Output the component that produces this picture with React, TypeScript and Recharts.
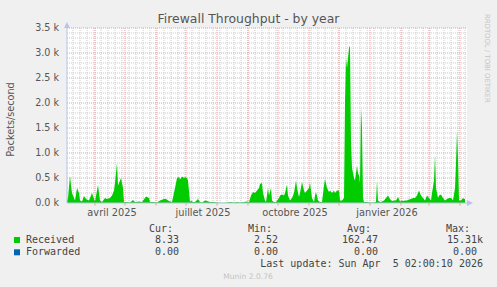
import React from 'react';
import { AreaChart, Area, XAxis, YAxis, CartesianGrid, ReferenceDot, ReferenceLine } from 'recharts';

// Days since 2025-03-01 (one sample per reading)
const days = [
  3, 4, 6, 7, 8, 10, 11, 13, 15, 16, 18, 20, 22, 25, 28, 30, 31, 34, 36, 38,
  41, 43, 46, 48, 50, 51, 53, 54, 56, 57, 59, 60, 63, 66, 69, 71, 75, 78, 82, 85,
  86, 90, 93, 96, 100, 102, 105, 108, 111, 113, 115, 116, 118, 120, 121, 123, 124, 126, 127, 129,
  131, 134, 136, 138, 141, 143, 146, 150, 153, 156, 160, 163, 166, 170, 173, 176, 180, 183, 185, 187,
  189, 191, 193, 195, 196, 198, 199, 201, 202, 204, 205, 207, 208, 210, 212, 215, 216, 218, 220, 221,
  223, 224, 226, 228, 230, 232, 233, 235, 236, 238, 240, 241, 243, 245, 246, 248, 250, 251, 252, 254,
  256, 258, 260, 261, 263, 265, 266, 268, 270, 271, 273, 275, 276, 278, 280, 281, 282, 283, 284, 285,
  286, 287, 288, 289, 290, 291, 292, 293, 294, 295, 296, 297, 298, 299, 300, 303, 306, 309, 312, 313,
  314, 316, 318, 320, 322, 324, 326, 328, 330, 332, 334, 336, 338, 339, 341, 343, 345, 347, 349, 351,
  353, 355, 357, 359, 361, 363, 365, 367, 368, 370, 371, 372, 374, 375, 377, 379, 381, 383, 385, 387,
  389, 391, 392, 393, 394, 395, 397, 399, 400, 401,
];

// Received packets/second
const received = [
  50, 100, 550, 350, 200, 100, 50, 300, 200, 50, 30, 140, 80, 50, 200, 80, 30, 360, 50, 20,
  100, 80, 100, 150, 250, 400, 800, 350, 450, 500, 300, 20, 20, 10, 60, 20, 30, 20, 130, 100,
  20, 20, 10, 50, 80, 80, 40, 20, 300, 500, 520, 470, 530, 500, 520, 500, 450, 20, 50, 20,
  20, 80, 20, 10, 50, 40, 20, 20, 10, 5, 5, 10, 20, 10, 20, 10, 20, 30, 20, 150,
  220, 200, 250, 300, 380, 400, 200, 50, 20, 300, 150, 300, 50, 20, 20, 100, 150, 170, 150, 200,
  370, 150, 50, 100, 200, 450, 300, 120, 200, 420, 250, 200, 250, 300, 400, 100, 20, 150, 220, 50,
  20, 20, 350, 480, 300, 220, 250, 200, 250, 200, 250, 250, 50, 50, 100, 2000, 2900, 2700, 2900, 3100,
  3150, 1200, 700, 600, 500, 450, 600, 750, 600, 550, 400, 1900, 1500, 100, 20, 20, 10, 10, 20, 450,
  50, 20, 30, 50, 100, 150, 80, 40, 50, 50, 120, 30, 50, 40, 50, 50, 70, 80, 100, 100,
  150, 250, 150, 100, 50, 150, 100, 50, 200, 450, 970, 300, 100, 150, 170, 100, 50, 80, 100, 100,
  50, 300, 800, 1450, 900, 50, 50, 100, 80, 80,
];

// Forwarded packets/second
const forwarded = [
  0, 0, 0, 0, 0, 0, 0, 0, 0, 0, 0, 0, 0, 0, 0, 0, 0, 0, 0, 0,
  0, 0, 0, 0, 0, 0, 0, 0, 0, 0, 0, 0, 0, 0, 0, 0, 0, 0, 0, 0,
  0, 0, 0, 0, 0, 0, 0, 0, 0, 0, 0, 0, 0, 0, 0, 0, 0, 0, 0, 0,
  0, 0, 0, 0, 0, 0, 0, 0, 0, 0, 0, 0, 0, 0, 0, 0, 0, 0, 0, 0,
  0, 0, 0, 0, 0, 0, 0, 0, 0, 0, 0, 0, 0, 0, 0, 0, 0, 0, 0, 0,
  0, 0, 0, 0, 0, 0, 0, 0, 0, 0, 0, 0, 0, 0, 0, 0, 0, 0, 0, 0,
  0, 0, 0, 0, 0, 0, 0, 0, 0, 0, 0, 0, 0, 0, 0, 0, 0, 0, 0, 0,
  0, 0, 0, 0, 0, 0, 0, 0, 0, 0, 0, 0, 0, 0, 0, 0, 0, 0, 0, 0,
  0, 0, 0, 0, 0, 0, 0, 0, 0, 0, 0, 0, 0, 0, 0, 0, 0, 0, 0, 0,
  0, 0, 0, 0, 0, 0, 0, 0, 0, 0, 0, 0, 0, 0, 0, 0, 0, 0, 0, 0,
  0, 0, 0, 0, 0, 0, 0, 0, 0, 0,
];

const xDomain = [3, 403];
const monthStartDays = [31, 61, 92, 122, 153, 184, 214, 245, 275, 306, 337, 365, 396];
const weekDays = [
  9, 16, 23, 30, 37, 44, 51, 58, 65, 72, 79, 86, 93, 100, 107, 114, 121, 128, 135, 142,
  149, 156, 163, 170, 177, 184, 191, 198, 205, 212, 219, 226, 233, 240, 247, 254, 261, 268, 275, 282,
  289, 296, 303, 310, 317, 324, 331, 338, 345, 352, 359, 366, 373, 380, 387, 394, 401,
];
const labelDays = [48, 139, 231, 323];
const labelTexts = ['avril 2025', 'juillet 2025', 'octobre 2025', 'janvier 2026'];

const yMajor = [0, 500, 1000, 1500, 2000, 2500, 3000, 3500];
const yMinor = [
  100, 200, 300, 400, 600, 700, 800, 900, 1100, 1200, 1300, 1400, 1600, 1700, 1800, 1900,
  2100, 2200, 2300, 2400, 2600, 2700, 2800, 2900, 3100, 3200, 3300, 3400,
];

const title = 'Firewall Throughput - by year';
const yTitle = 'Packets/second';
const watermark = 'RRDTOOL / TOBI OETIKER';
const seriesNames = ['Received', 'Forwarded'];
const seriesColors = ['#00CC00', '#0066B3'];
const statHeaders = ['Cur:', 'Min:', 'Avg:', 'Max:'];
const curValues = ['8.33', '0.00'];
const minValues = ['2.52', '0.00'];
const avgValues = ['162.47', '0.00'];
const maxValues = ['15.31', '0.00'];
const maxUnits = ['k', ''];
const lastUpdate = 'Last update: Sun Apr  5 02:00:10 2026';
const footer = 'Munin 2.0.76';

const data = days.map((d, i) => ({ day: d, received: received[i], forwarded: forwarded[i] }));

const AXIS_COLOR = '#BCC2EA';
const TEXT = '#555555';
const MONO = "'DejaVu Sans Mono', monospace";
const SANS = "'DejaVu Sans', sans-serif";

const UpArrow = (p: any) => (
  <polygon points={`${p.cx - 3},${p.cy} ${p.cx + 3},${p.cy} ${p.cx},${p.cy - 6}`} fill={AXIS_COLOR} />
);
const RightArrow = (p: any) => (
  <polygon points={`${p.cx},${p.cy - 3} ${p.cx},${p.cy + 3} ${p.cx + 6},${p.cy}`} fill={AXIS_COLOR} />
);

const headerX = [173, 272, 371, 470];
const colX = [179, 278, 378, 477];

export default function App() {
  return (
    <div style={{ position: 'fixed', left: 0, top: 0, width: 497, height: 287, background: '#F0F0F0', overflow: 'hidden' }}>
      <AreaChart width={497} height={287} data={data} margin={{ top: 28, right: 30, left: 0, bottom: 64 }}>
        <CartesianGrid
          fill="#FFFFFF"
          stroke="#CBCBCB"
          strokeDasharray="1 1"
          verticalValues={weekDays}
          horizontalValues={yMinor}
        />
        <CartesianGrid
          fill="none"
          stroke="#EBA0A0"
          strokeDasharray="1 1"
          verticalValues={monthStartDays}
          horizontalValues={yMajor.filter((v) => v > 0)}
        />
        <XAxis
          type="number"
          dataKey="day"
          domain={xDomain}
          allowDataOverflow
          ticks={labelDays}
          interval={0}
          tickFormatter={(v: number) => labelTexts[labelDays.indexOf(v)] ?? ''}
          height={20}
          tickSize={0}
          tickMargin={6.5}
          tickLine={false}
          axisLine={{ stroke: AXIS_COLOR }}
          tick={{ fontFamily: SANS, fontSize: 9.8, fill: TEXT }}
        />
        <YAxis
          type="number"
          domain={[0, 3500]}
          ticks={yMajor}
          interval={0}
          width={67}
          tickSize={0}
          tickMargin={8}
          tickLine={false}
          axisLine={{ stroke: AXIS_COLOR }}
          tickFormatter={(v: number) => `${(v / 1000).toFixed(1)} k`}
          tick={{ fontFamily: SANS, fontSize: 9.6, fill: TEXT }}
        />
        <Area
          type="linear"
          dataKey="received"
          stroke="none"
          fill={seriesColors[0]}
          fillOpacity={1}
          isAnimationActive={false}
          dot={false}
          activeDot={false}
        />
        <Area
          type="linear"
          dataKey="forwarded"
          stroke="none"
          fill={seriesColors[1]}
          fillOpacity={1}
          isAnimationActive={false}
          dot={false}
          activeDot={false}
        />
        {monthStartDays.map((m) => (
          <ReferenceLine
            key={`mt-${m}`}
            segment={[{ x: m, y: 0 }, { x: m, y: -50 }]}
            ifOverflow="visible"
            stroke="#E89A9A"
            strokeWidth={1}
          />
        ))}
        <ReferenceDot x={xDomain[0]} y={3500} ifOverflow="visible" shape={UpArrow} />
        <ReferenceDot x={xDomain[1]} y={0} ifOverflow="visible" shape={RightArrow} />
      </AreaChart>
      <svg width={497} height={287} style={{ position: 'absolute', left: 0, top: 0, pointerEvents: 'none' }}>
        <text x={248.5} y={22.5} textAnchor="middle" fontFamily={SANS} fontSize={12.4} fill={TEXT}>
          {title}
        </text>
        <text
          x={14}
          y={119.5}
          textAnchor="middle"
          fontFamily={SANS}
          fontSize={9.7}
          fill={TEXT}
          transform="rotate(-90 14 119.5)"
        >
          {yTitle}
        </text>
        <text
          x={485}
          y={14}
          textAnchor="start"
          fontFamily={SANS}
          fontSize={6.9}
          fill="#C4C4C4"
          transform="rotate(90 485 14)"
        >
          {watermark}
        </text>
        {statHeaders.map((h, i) => (
          <text key={h} x={headerX[i]} y={231.6} textAnchor="end" fontFamily={MONO} fontSize={10} fill="#444">
            {h}
          </text>
        ))}
        {seriesNames.map((name, r) => {
          const y = 243 + r * 12.3;
          return (
            <g key={name}>
              <rect x={14} y={y - 6} width={6} height={6} fill={seriesColors[r]} />
              <text x={26} y={y} fontFamily={MONO} fontSize={10} fill="#444">{name}</text>
              <text x={colX[0]} y={y} textAnchor="end" fontFamily={MONO} fontSize={10} fill="#444">{curValues[r]}</text>
              <text x={colX[1]} y={y} textAnchor="end" fontFamily={MONO} fontSize={10} fill="#444">{minValues[r]}</text>
              <text x={colX[2]} y={y} textAnchor="end" fontFamily={MONO} fontSize={10} fill="#444">{avgValues[r]}</text>
              <text x={colX[3]} y={y} textAnchor="end" fontFamily={MONO} fontSize={10} fill="#444">{maxValues[r]}</text>
              <text x={colX[3]} y={y} textAnchor="start" fontFamily={MONO} fontSize={10} fill="#444">{maxUnits[r]}</text>
            </g>
          );
        })}
        <text x={483} y={267} textAnchor="end" fontFamily={MONO} fontSize={10} fill="#444" style={{ whiteSpace: 'pre' }}>
          {lastUpdate}
        </text>
        <text x={248} y={279} textAnchor="middle" fontFamily={SANS} fontSize={7.6} fill="#C4C4C4">
          {footer}
        </text>
      </svg>
    </div>
  );
}
